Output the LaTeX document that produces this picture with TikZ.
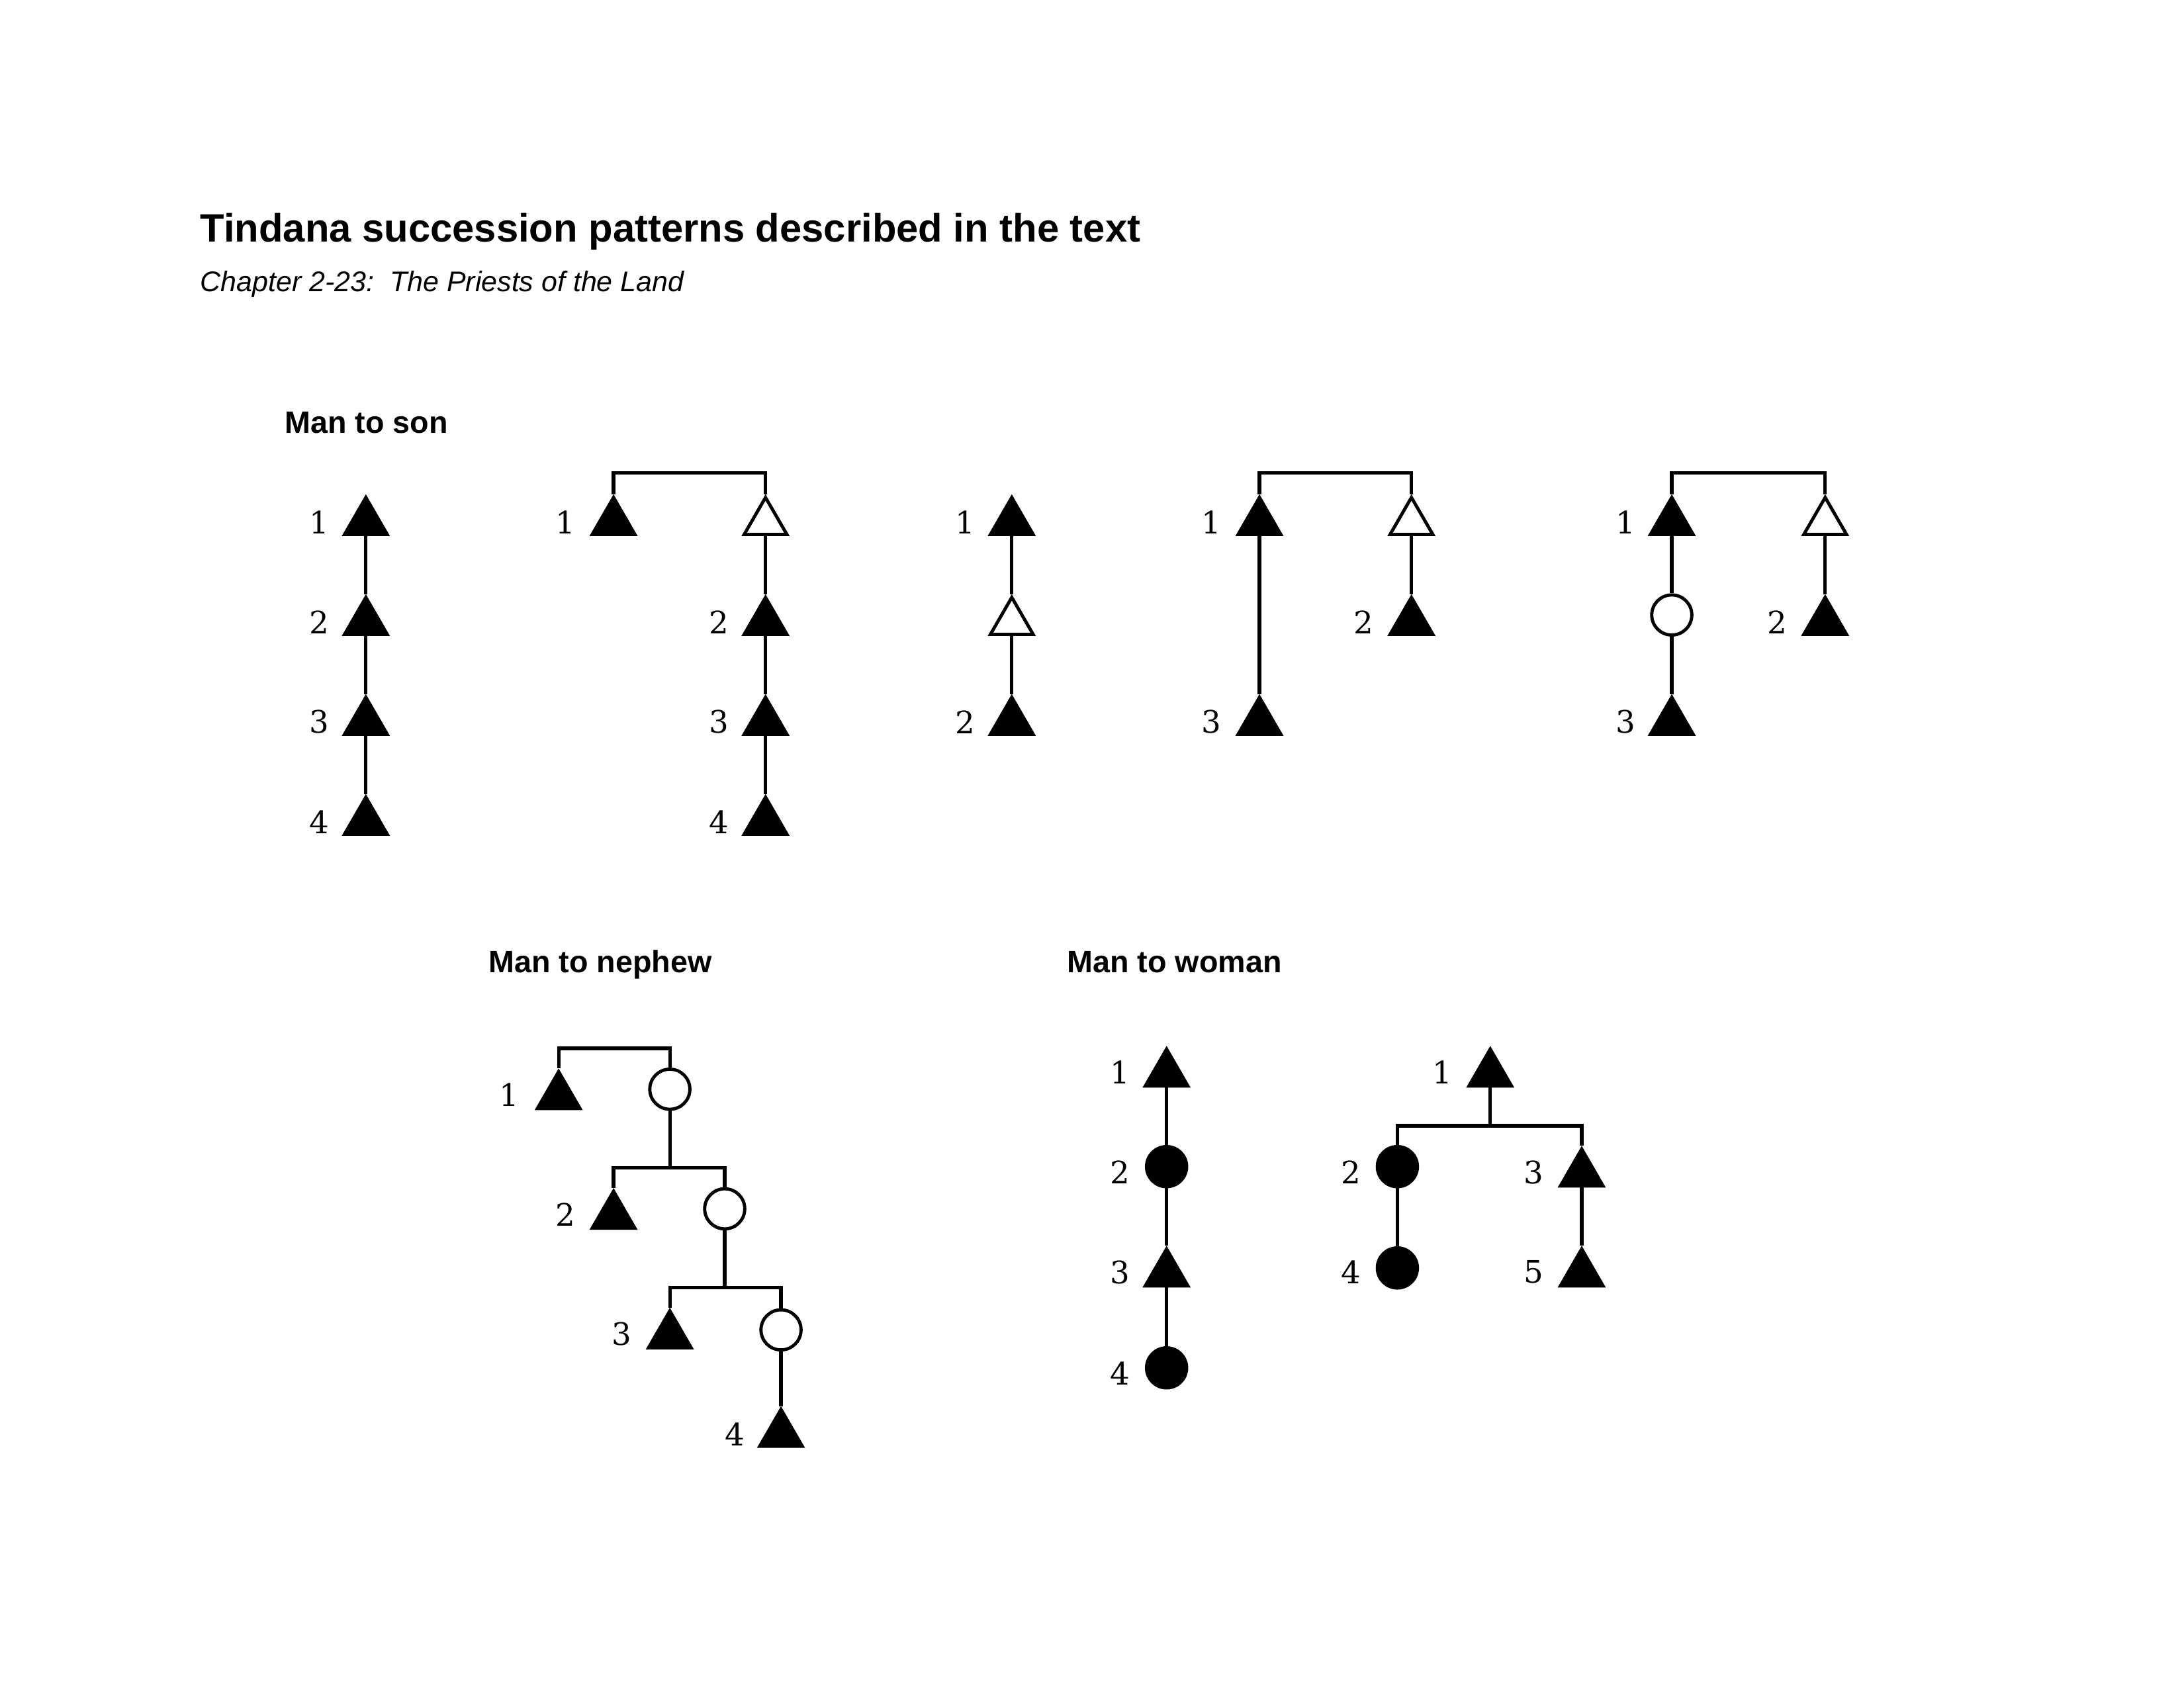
\documentclass[tikz,border=0pt]{standalone}
\usepackage{fontspec}
\setmainfont{Liberation Sans}
\newfontfamily\numfont{DejaVu Serif}
\usetikzlibrary{shapes.geometric}
\begin{document}
\begin{tikzpicture}[x=0.02cm,y=-0.02cm,
  tri/.style={regular polygon,regular polygon sides=3,minimum size=0.70cm,inner sep=0pt,draw,line width=1.3pt,fill=black},
  otri/.style={tri,fill=white},
  fc/.style={circle,minimum size=0.57cm,inner sep=0pt,draw,line width=1.3pt,fill=black},
  oc/.style={fc,fill=white},
  ln/.style={line width=1.4pt},
  num/.style={font=\numfont\fontsize{12.5}{14}\selectfont,inner sep=0pt},
  head/.style={font=\bfseries\fontsize{12.5}{15}\selectfont,anchor=base west,inner sep=0pt}]
\path[use as bounding box] (0,0) rectangle (1552,1200);
\node[anchor=base west,inner sep=0pt,font=\bfseries\fontsize{16}{19}\selectfont] (title) at (142,172) {Tindana succession patterns described in the text};
\node[anchor=base west,inner sep=0pt,font=\itshape\fontsize{11.5}{14}\selectfont] (sub) at (142,207) {Chapter 2-23:\ \ The Priests of the Land};
\node[head] (h1) at (202,308) {Man to son};
\node[head] (h2) at (347,691) {Man to nephew};
\node[head] (h3) at (758,691) {Man to woman};
% Col A
\foreach \i/\y in {1/371,2/442,3/513,4/584}{
  \node[tri] (a\i) at (260,\y) {};
  \node[num] (la\i) at (227,\y) {\i};}
\draw[ln] (a1)--(a2) (a2)--(a3) (a3)--(a4);
% Col B
\node[tri] (b1) at (436,371) {}; \node[num] (lb1) at (402,371) {1};
\node[otri] (b0) at (544,371) {};
\foreach \i/\y in {2/442,3/513,4/584}{
  \node[tri] (b\i) at (544,\y) {};
  \node[num] (lb\i) at (511,\y) {\i};}
\draw[ln] (b1.corner 1) |- (490,336) -| (b0.corner 1);
\draw[ln] (b0)--(b2) (b2)--(b3) (b3)--(b4);
% Col C
\node[tri] (c1) at (719,371) {}; \node[num] (lc1) at (686,371) {1};
\node[otri] (c0) at (719,442) {};
\node[tri] (c2) at (719,513) {}; \node[num] (lc2) at (686,513) {2};
\draw[ln] (c1)--(c0) (c0)--(c2);
% Col D
\node[tri] (d1) at (895,371) {}; \node[num] (ld1) at (861,371) {1};
\node[otri] (d0) at (1003,371) {};
\node[tri] (d2) at (1003,442) {}; \node[num] (ld2) at (969,442) {2};
\node[tri] (d3) at (895,513) {}; \node[num] (ld3) at (861,513) {3};
\draw[ln] (d1.corner 1) |- (950,336) -| (d0.corner 1);
\draw[ln] (d1)--(d3) (d0)--(d2);
% Col E
\node[tri] (e1) at (1188,371) {}; \node[num] (le1) at (1155,371) {1};
\node[oc] (ec) at (1188,437) {};
\node[tri] (e3) at (1188,513) {}; \node[num] (le3) at (1155,513) {3};
\node[otri] (e0) at (1297,371) {};
\node[tri] (e2) at (1297,442) {}; \node[num] (le2) at (1263,442) {2};
\draw[ln] (e1.corner 1) |- (1240,336) -| (e0.corner 1);
\draw[ln] (e1)--(ec) (ec)--(e3) (e0)--(e2);
% Nephew
\node[tri] (n1) at (397,779) {}; \node[num] (ln1) at (362,778) {1};
\node[oc] (nc1) at (476,774) {};
\node[tri] (n2) at (436,864) {}; \node[num] (ln2) at (402,863) {2};
\node[oc] (nc2) at (515,859) {};
\node[tri] (n3) at (476,949) {}; \node[num] (ln3) at (442,948) {3};
\node[oc] (nc3) at (555,945) {};
\node[tri] (n4) at (555,1019) {}; \node[num] (ln4) at (522,1019) {4};
\draw[ln] (n1.corner 1) |- (436,745) -| (nc1.north);
\draw[ln] (nc1.south) -- (476,830);
\draw[ln] (n2.corner 1) |- (476,830) -| (nc2.north);
\draw[ln] (nc2.south) -- (515,915);
\draw[ln] (n3.corner 1) |- (515,915) -| (nc3.north);
\draw[ln] (nc3)--(n4);
% Woman left
\node[tri] (w1) at (829,763) {}; \node[num] (lw1) at (796,762) {1};
\node[fc] (w2) at (829,829) {}; \node[num] (lw2) at (796,833) {2};
\node[tri] (w3) at (829,905) {}; \node[num] (lw3) at (796,904) {3};
\node[fc] (w4) at (829,972) {}; \node[num] (lw4) at (796,976) {4};
\draw[ln] (w1)--(w2) (w2)--(w3) (w3)--(w4);
% Woman right
\node[tri] (v1) at (1059,763) {}; \node[num] (lv1) at (1025,762) {1};
\node[fc] (v2) at (993,829) {}; \node[num] (lv2) at (960,833) {2};
\node[tri] (v3) at (1124,834) {}; \node[num] (lv3) at (1090,833) {3};
\node[fc] (v4) at (993,901) {}; \node[num] (lv4) at (960,904) {4};
\node[tri] (v5) at (1124,905) {}; \node[num] (lv5) at (1090,904) {5};
\coordinate (vm) at (1059,800);
\draw[ln] (v1.south) -- (vm);
\draw[ln] (v2.north) |- (vm) -| (v3.corner 1);
\draw[ln] (v2)--(v4) (v3)--(v5);
\end{tikzpicture}
\end{document}
